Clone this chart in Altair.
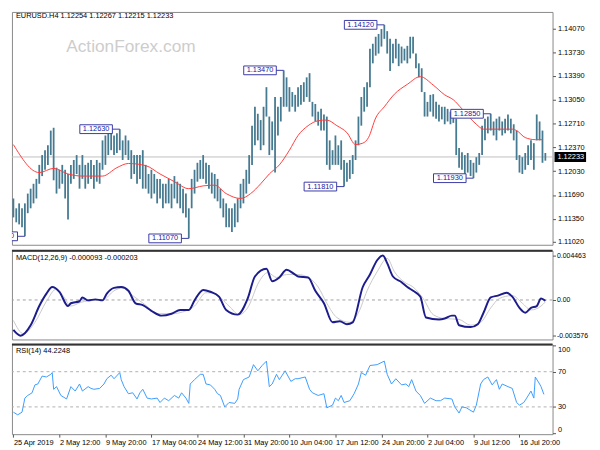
import altair as alt
import pandas as pd

FONT = "Liberation Sans"
FS = 7.5

# ---------------- data ----------------
# H4 bar index (every second bar drawn); prices written as pips above 1.10000
bar_idx = list(range(0, 372, 2))
high_pips = [164,150,157,150,157,171,178,185,192,212,226,233,240,261,265,
             208,205,212,205,199,212,219,226,212,226,212,215,219,212,219,215,247,254,
             261,261,254,257,263,247,254,247,
             233,226,226,226,233,212,199,205,199,192,192,185,185,192,185,196,188,185,178,171,150,
             192,205,215,219,226,215,212,201,199,192,178,164,157,150,150,157,164,185,192,205,226,
             268,295,285,276,295,323,281,274,309,295,309,347,337,323,316,312,323,326,330,337,343,302,299,288,292,284,
             281,247,233,254,240,247,219,215,219,226,247,281,309,323,330,
             378,385,395,399,406,412,403,392,385,392,385,381,378,382,395,395,371,357,350,316,302,312,313,302,298,295,295,292,288,285,
             278,236,230,226,229,219,215,223,229,268,278,281,285,274,278,281,274,278,284,278,270,261,226,223,229,240,247,243,284,274,261,229]
low_pips = [137,130,127,123,110,143,150,157,164,185,196,205,212,226,190,
            171,178,185,164,134,185,192,199,178,192,178,185,192,178,188,185,205,212,
            226,233,226,229,233,219,226,219,
            192,199,185,192,178,178,171,164,171,157,164,150,157,157,150,164,157,150,143,137,107,
            150,171,188,192,192,185,178,171,164,160,150,137,123,123,116,123,130,150,157,171,185,
            212,240,247,233,240,281,226,233,201,254,274,295,295,288,295,288,295,298,302,309,302,281,274,268,261,261,
            212,205,212,212,212,205,181,188,192,199,219,240,268,288,295,
            323,357,368,371,381,392,371,346,357,364,353,357,361,357,364,371,350,337,316,281,281,288,281,278,274,277,270,274,270,272,
            226,208,205,199,201,196,193,201,212,226,247,257,261,254,247,261,254,257,261,257,247,219,201,199,205,212,219,205,247,247,215,218]

ma_idx = [0,18,28,38,48,62,72,80,92,102,112,122,132,140,148,158,165,172,178,185,192,198,205,212,218,
          225,232,238,243,247,252,258,265,274,283,292,300,306,312,322,327,347,350,356,363,368]
ma_pips = [241,201,207,199,196,196,208,214,211,199,188,178,182,183,171,164,171,185,199,212,233,254,268,275,276,
           268,258,241,243,251,279,295,313,327,338,326,312,305,292,270,263,263,261,251,248,248]

macd_idx = [0,5,12,18,23,27,32,38,40,46,48,52,57,62,65,70,75,80,85,90,96,103,110,116,122,126,132,137,143,148,
            156,163,168,176,180,185,190,195,198,205,210,216,222,227,232,236,243,248,253,257,260,264,270,274,278,
            283,287,296,300,305,307,310,318,323,327,332,337,343,347,352,356,360,364,367,370]
macd_main = [-0.00300,-0.00358,-0.00253,-0.00061,0.00063,0.00130,0.00082,-0.00061,-0.00033,-0.00013,0.00025,
             -0.00004,0.00006,-0.00004,0.00063,0.00121,0.00130,0.00092,-0.00033,-0.00052,-0.00109,-0.00157,-0.00138,
             -0.00100,-0.00100,-0.00004,0.00101,0.00082,0.00034,-0.00100,-0.00147,0.00015,0.00235,0.00312,0.00188,
             0.00226,0.00302,0.00264,0.00235,0.00226,0.00092,-0.00033,-0.00224,-0.00214,-0.00243,-0.00224,0.00130,
             0.00255,0.00398,0.00446,0.00369,0.00235,0.00178,0.00130,0.00092,0.00034,-0.00176,-0.00195,-0.00186,
             -0.00157,-0.00157,-0.00253,-0.00272,-0.00243,-0.00128,0.00025,0.00044,0.00073,0.00034,-0.00080,-0.00128,
             -0.00080,-0.00061,0.00015,-0.00009]
signal_idx = [0,7,15,23,30,35,40,47,56,63,70,76,83,92,100,110,120,126,134,140,150,157,164,170,177,183,190,198,
              205,212,218,225,234,240,246,253,260,265,272,278,285,292,300,310,318,325,332,338,347,354,360,367,370]
macd_signal = [-0.00205,-0.00339,-0.00224,-0.00013,0.00111,0.00034,-0.00061,-0.00023,-0.00004,0.00006,0.00092,
               0.00121,0.00044,-0.00052,-0.00138,-0.00138,-0.00109,-0.00061,0.00073,0.00063,-0.00061,-0.00147,
               -0.00052,0.00159,0.00274,0.00226,0.00255,0.00255,0.00226,0.00130,-0.00033,-0.00176,-0.00224,
               -0.00128,0.00092,0.00283,0.00417,0.00283,0.00178,0.00130,0.00015,-0.00147,-0.00186,-0.00195,
               -0.00253,-0.00224,-0.00080,0.00015,0.00044,-0.00033,-0.00100,-0.00061,-0.00020]

rsi_idx = [0,3,6,8,10,13,15,17,20,23,26,27,28,30,33,37,40,43,46,48,52,54,56,60,63,65,68,70,74,75,77,80,83,86,88,
           90,93,96,100,102,105,108,112,115,117,120,122,123,126,130,132,134,137,140,142,144,147,150,154,156,157,
           160,164,167,170,173,176,178,180,183,185,189,193,196,198,203,206,208,212,216,218,222,224,226,228,230,
           234,237,240,242,245,248,253,258,260,263,266,270,273,275,277,280,283,286,290,294,297,300,305,307,310,
           312,315,320,322,325,327,330,333,336,338,340,344,347,350,352,355,357,360,362,363,366,367,369]
rsi_val = [24,21,24,40,43,46,55,56,65,64,67,69,50,53,43,39,53,48,56,48,53,51,50,51,56,62,66,62,69,61,53,45,46,39,46,
           50,40,39,40,35,40,37,43,40,46,40,34,56,61,67,67,56,55,50,45,43,30,35,34,39,50,
           61,64,78,71,77,82,53,56,67,61,71,59,62,62,64,50,46,43,45,29,32,40,37,43,35,
           37,45,56,69,66,77,78,82,67,56,62,55,56,53,61,48,43,34,40,37,37,40,39,30,23,
           30,29,24,32,56,61,64,55,61,50,56,53,51,35,32,35,40,48,40,64,56,53,44.22]

price_ticks = [1.1102, 1.1135, 1.1169, 1.1203, 1.1237, 1.1271, 1.1305, 1.1339, 1.1373, 1.1407]
macd_ticks = [0.004463, 0.0, -0.003576]
macd_tick_labels = ["0.004463", "0.00", "-0.003576"]
rsi_ticks = [0, 30, 70, 100]
time_tick_idx = [0, 32, 64, 96, 128, 160, 192, 224, 256, 288, 320, 352]
time_tick_labels = ["25 Apr 2019", "2 May 12:00", "9 May 20:00", "17 May 04:00", "24 May 12:00",
                    "31 May 20:00", "10 Jun 04:00", "17 Jun 12:00", "24 Jun 20:00", "2 Jul 04:00",
                    "9 Jul 12:00", "16 Jul 20:00"]

label_idx = [8, 74, 122, 188, 230, 258, 320, 332]
label_price = [1.1110, 1.1263, 1.1107, 1.1347, 1.1181, 1.1412, 1.1193, 1.1285]
label_text = ["1.11100", "1.12630", "1.11070", "1.13470", "1.11810", "1.14120", "1.11930", "1.12850"]

last_close = 1.12233
header_text = "EURUSD.H4  1.12254 1.12267 1.12215 1.12233"
macd_text = "MACD(12,26,9) -0.000093 -0.000203"
rsi_text = "RSI(14) 44.2248"
watermark_text = "ActionForex.com"

assert len(bar_idx) == len(high_pips) == len(low_pips)
assert len(ma_idx) == len(ma_pips)
assert len(macd_idx) == len(macd_main)
assert len(signal_idx) == len(macd_signal)
assert len(rsi_idx) == len(rsi_val)

# ---------------- tables ----------------
bars_df = pd.DataFrame({"idx": bar_idx,
                        "high": [1.1 + v / 10000 for v in high_pips],
                        "low": [1.1 + v / 10000 for v in low_pips]})
ma_df = pd.DataFrame({"idx": ma_idx, "ma": [1.1 + v / 10000 for v in ma_pips]})
macd_df = pd.DataFrame({"idx": macd_idx, "v": macd_main})
sig_df = pd.DataFrame({"idx": signal_idx, "v": macd_signal})
rsi_df = pd.DataFrame({"idx": rsi_idx, "v": rsi_val})
lab_df = pd.DataFrame({"idx": label_idx, "price": label_price, "t": label_text})
last_df = pd.DataFrame({"p": [last_close], "t": [f"{last_close:.5f}"]})

W = 548
H_MAIN, H_MACD, H_RSI = 236, 90, 91

xscale = alt.Scale(domain=[-1, 375], nice=False, zero=False)
pscale = alt.Scale(domain=[1.10979, 1.14304], nice=False, zero=False)
mscale = alt.Scale(domain=[-0.00396, 0.00494], nice=False, zero=False)
rscale = alt.Scale(domain=[-1, 101], nice=False, zero=False)

ax_common = dict(labelFont=FONT, labelColor="#000000", tickColor="#555555",
                 tickSize=3, domain=False, grid=False, title=None)

X_none = alt.X("idx:Q", scale=xscale, axis=None)


def txt(s, x, y, size=FS, color="#000000"):
    return alt.Chart(pd.DataFrame({"t": [s]})).mark_text(
        align="left", baseline="middle", font=FONT, fontSize=size, color=color
    ).encode(x=alt.value(x), y=alt.value(y), text="t:N")


# ---------------- main panel ----------------
price_axis = alt.Axis(orient="right", values=price_ticks, format=".5f", labelFontSize=FS,
                      labelPadding=2, **ax_common)

watermark = txt(watermark_text, 55, 36, size=17.5, color="#cdcdcd")
header = txt(header_text, 4, 4)

last_line = alt.Chart(last_df).mark_rule(color="#c0c0c0", strokeWidth=1).encode(
    y=alt.Y("p:Q", scale=pscale, axis=price_axis))

bars = alt.Chart(bars_df).mark_rule(color="#467a91", strokeWidth=1.8).encode(
    x=X_none, y=alt.Y("low:Q", scale=pscale, axis=price_axis), y2="high:Q")

ma_line = alt.Chart(ma_df).mark_line(color="#ff3c3c", strokeWidth=1, interpolate="monotone").encode(
    x=X_none, y=alt.Y("ma:Q", scale=pscale, axis=price_axis))

lab_line = alt.Chart(lab_df).mark_rule(color="#3a3aa8", strokeWidth=1, xOffset=-8, clip=True).encode(
    x=X_none, x2="idx:Q", y=alt.Y("price:Q", scale=pscale, axis=price_axis))
lab_box = alt.Chart(lab_df).mark_point(
    shape="M-1,-0.27L1,-0.27L1,0.27L-1,0.27Z", size=1089, filled=True, fill="white",
    stroke="#3a3aa8", strokeWidth=1, opacity=1, xOffset=-24, clip=True
).encode(x=X_none, y=alt.Y("price:Q", scale=pscale, axis=price_axis))
lab_txt = alt.Chart(lab_df).mark_text(
    font=FONT, fontSize=FS, color="#2020a0", align="center", baseline="middle", xOffset=-24, clip=True
).encode(x=X_none, y=alt.Y("price:Q", scale=pscale, axis=price_axis), text="t:N")

cur_box = alt.Chart(last_df).mark_rule(color="#000000", strokeWidth=10).encode(
    x=alt.value(W + 2), x2=alt.value(W + 34), y=alt.Y("p:Q", scale=pscale, axis=price_axis))
cur_txt = alt.Chart(last_df).mark_text(
    font=FONT, fontSize=FS, color="#ffffff", align="left", baseline="middle"
).encode(x=alt.value(W + 5), y=alt.Y("p:Q", scale=pscale, axis=price_axis), text="t:N")

main = alt.layer(watermark, last_line, bars, ma_line, lab_line, lab_box, lab_txt,
                 cur_box, cur_txt, header).properties(width=W, height=H_MAIN)

# ---------------- MACD panel ----------------
macd_expr = " : ".join(
    f"abs(datum.value - ({v})) < 1e-7 ? '{s}'" for v, s in zip(macd_ticks, macd_tick_labels)) + " : ''"
macd_axis = alt.Axis(orient="right", values=macd_ticks, labelExpr=macd_expr, labelFontSize=7,
                     labelPadding=1, **ax_common)

zero_df = pd.DataFrame({"v": [0.0]})
macd_zero = alt.Chart(zero_df).mark_rule(color="#a0a0a0", strokeDash=[3, 3], strokeWidth=1).encode(
    y=alt.Y("v:Q", scale=mscale, axis=macd_axis))
sig_line = alt.Chart(sig_df).mark_line(color="#c8c8c8", strokeWidth=1, interpolate="monotone").encode(
    x=X_none, y=alt.Y("v:Q", scale=mscale, axis=macd_axis))
macd_line = alt.Chart(macd_df).mark_line(color="#1c1c8c", strokeWidth=2, interpolate="monotone").encode(
    x=X_none, y=alt.Y("v:Q", scale=mscale, axis=macd_axis))
top_rule = alt.Chart(zero_df).mark_rule(color="#333333", strokeWidth=2).encode(
    x=alt.value(0), x2=alt.value(W), y=alt.value(0))

macd = alt.layer(macd_zero, sig_line, macd_line, top_rule, txt(macd_text, 4, 7)).properties(
    width=W, height=H_MACD)

# ---------------- RSI panel ----------------
rsi_axis = alt.Axis(orient="right", values=rsi_ticks, format="d", labelFlush=4, labelFontSize=FS,
                    labelPadding=2, **ax_common)
time_expr = "[" + ",".join(f"'{s}'" for s in time_tick_labels) + "][round(datum.value / 32)]"
time_axis = alt.Axis(values=time_tick_idx, labelExpr=time_expr, labelAlign="left", labelFont=FONT,
                     labelFontSize=FS, labelColor="#000000", tickColor="#555555", tickSize=3,
                     labelPadding=1, domain=False, grid=False, title=None, labelOverlap=False)

lvl_df = pd.DataFrame({"v": [30, 70]})
rsi_lvls = alt.Chart(lvl_df).mark_rule(color="#b0b0b0", strokeDash=[3, 3], strokeWidth=1).encode(
    y=alt.Y("v:Q", scale=rscale, axis=rsi_axis))
rsi_line = alt.Chart(rsi_df).mark_line(color="#3c9cff", strokeWidth=1).encode(
    x=alt.X("idx:Q", scale=xscale, axis=time_axis), y=alt.Y("v:Q", scale=rscale, axis=rsi_axis))

rsi = alt.layer(rsi_lvls, rsi_line, top_rule, txt(rsi_text, 4, 7)).properties(width=W, height=H_RSI)

chart = alt.vconcat(main, macd, rsi, spacing=2).properties(
    padding={"left": 0, "top": 0, "right": 0, "bottom": -1}
).configure_view(stroke="#888888", strokeWidth=1)

chart.save("out.html", embed_options={"renderer": "svg", "actions": False})
